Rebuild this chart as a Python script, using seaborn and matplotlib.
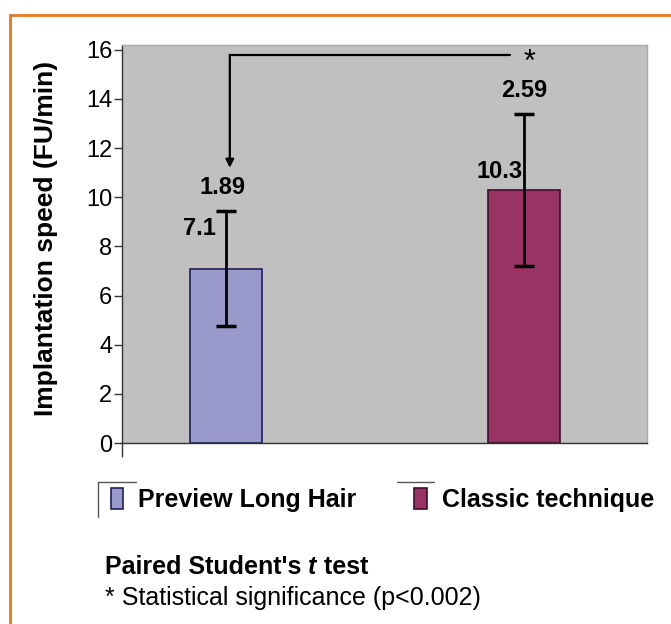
import matplotlib.pyplot as plt
import matplotlib.patches as mpatches
from matplotlib.lines import Line2D
import numpy as np
import pandas as pd
import seaborn as sns

# values
groups = ["Preview Long Hair", "Classic technique"]
speed = [7.1, 10.3]
sd_label = ["1.89", "2.59"]
err_drawn = [2.35, 3.1]          # half-length of the drawn error bars
bar_colors = ["#9999CC", "#993366"]
edge_colors = ["#1F1F5F", "#3A1028"]

sns.set_theme(style="white")
plt.rcParams["font.family"] = ["Liberation Sans", "DejaVu Sans"]
plt.rcParams["text.color"] = "black"
plt.rcParams["axes.labelcolor"] = "black"
plt.rcParams["ytick.labelcolor"] = "black"

df = pd.DataFrame({"group": groups, "speed": speed})

fig = plt.figure(figsize=(6.71, 6.24), dpi=100)
ax = fig.add_axes([0.1818, 0.290, 0.7822, 0.638])
ax.set_facecolor("#C0C0C0")

sns.barplot(data=df, x="group", y="speed", hue="group", palette=bar_colors,
            width=0.24, ax=ax, legend=False, saturation=1)
for p, ec in zip(ax.patches, edge_colors):
    p.set_edgecolor(ec)
    p.set_linewidth(1.2)

xs = np.arange(len(groups))
ax.errorbar(xs, speed, yerr=err_drawn, fmt="none", ecolor="black",
            elinewidth=2, capsize=7.5, capthick=2.5, zorder=5)

# value labels
fs = 17
ax.text(-0.09, 8.75, "7.1", ha="center", va="center", fontsize=fs, fontweight="bold")
ax.text(-0.01, 10.4, sd_label[0], ha="center", va="center", fontsize=fs, fontweight="bold")
ax.text(0.92, 11.05, "10.3", ha="center", va="center", fontsize=fs, fontweight="bold")
ax.text(1.0, 14.35, sd_label[1], ha="center", va="center", fontsize=fs, fontweight="bold")
ax.text(1.02, 15.45, "*", ha="center", va="center", fontsize=22)

# significance bracket
ax.plot([0.013, 0.953], [15.8, 15.8], color="black", lw=1.6)
ax.annotate("", xy=(0.013, 11.2), xytext=(0.013, 15.8),
            arrowprops=dict(arrowstyle="-|>", color="black", lw=1.6,
                            mutation_scale=12, shrinkA=0, shrinkB=0))

ax.set_xlim(-0.349, 1.413)
ax.set_ylim(0, 16.2)
ax.set_yticks(range(0, 17, 2))
ax.tick_params(axis="y", labelsize=17, length=6, width=1, color="#333333",
               direction="out", left=True, pad=1)
ax.set_xticks([-0.349])
ax.set_xticklabels([""])
ax.tick_params(axis="x", length=10, width=1, color="#333333", direction="out", bottom=True)
ax.set_xlabel("")
ax.set_ylabel("Implantation speed (FU/min)", fontsize=19, fontweight="bold")
ax.yaxis.set_label_coords(-0.122, 0.513)
for s in ["left", "bottom"]:
    ax.spines[s].set_color("#333333")
    ax.spines[s].set_linewidth(1)
for s in ["top", "right"]:
    ax.spines[s].set_color("#A8A8A8")
    ax.spines[s].set_linewidth(1)

# legend
handles = [mpatches.Patch(facecolor=c, edgecolor=e, linewidth=1.2)
           for c, e in zip(bar_colors, edge_colors)]
leg = fig.legend(handles, groups, ncol=2, loc="center",
                 bbox_to_anchor=(0.570, 0.199), frameon=False,
                 prop=dict(size=18, weight="bold"), handlelength=0.5,
                 handleheight=0.9, handletextpad=0.6, columnspacing=2.3,
                 borderaxespad=0, borderpad=0)

# leftover legend frame lines
fig.add_artist(Line2D([98 / 671, 136 / 671], [1 - 482 / 624, 1 - 482 / 624], color="#555555", lw=1))
fig.add_artist(Line2D([98 / 671, 98 / 671], [1 - 482 / 624, 1 - 517 / 624], color="#555555", lw=1))
fig.add_artist(Line2D([397 / 671, 434 / 671], [1 - 482 / 624, 1 - 482 / 624], color="#555555", lw=1))

# notes
nfs = 18
t1 = fig.text(105 / 671, 1 - 567 / 624, "Paired Student's ", fontsize=nfs, fontweight="bold", va="center")
fig.text(105 / 671, 1 - 598 / 624, "* Statistical significance (p<0.002)", fontsize=nfs, va="center")
fig.canvas.draw()
bb = t1.get_window_extent().transformed(fig.transFigure.inverted())
t2 = fig.text(bb.x1, 1 - 567 / 624, "t", fontsize=nfs, fontweight="bold", style="italic", va="center")
bb2 = t2.get_window_extent().transformed(fig.transFigure.inverted())
fig.text(bb2.x1, 1 - 567 / 624, " test", fontsize=nfs, fontweight="bold", va="center")

# orange frame
fig.add_artist(mpatches.Rectangle((10 / 671, -0.05), 1.1, 1 - 15 / 624 + 0.05,
                                  transform=fig.transFigure, fill=False,
                                  edgecolor="#E87722", lw=2))

fig.savefig("out.png", dpi=100)
